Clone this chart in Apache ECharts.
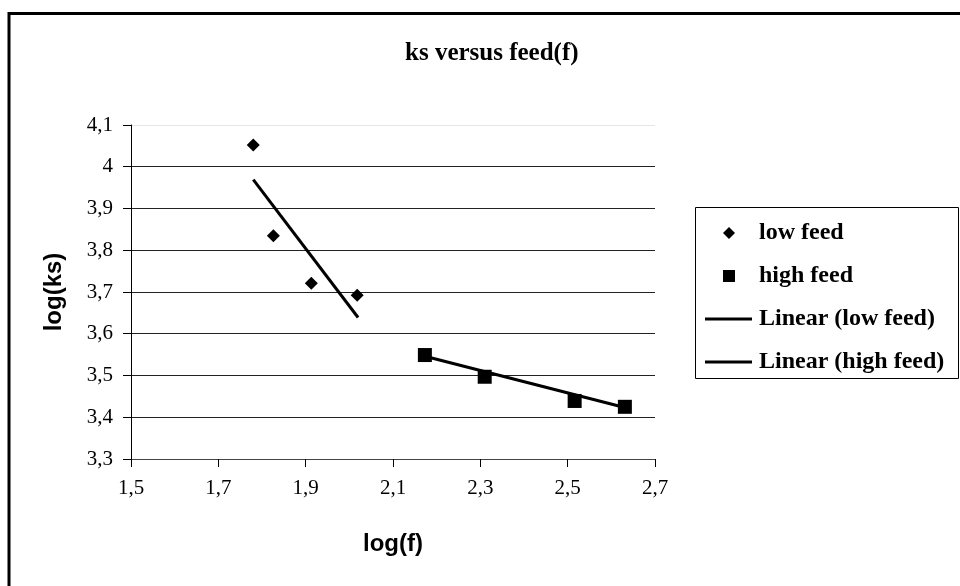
<!DOCTYPE html>
<html>
<head>
<meta charset="utf-8">
<script src="https://cdn.jsdelivr.net/npm/echarts@6/dist/echarts.min.js"></script>
<style>html,body{margin:0;padding:0;background:#fff;}#c{width:960px;height:586px;}</style>
</head>
<body>
<div id="c"></div>
<script>
// ---- data ----
const lowFeedX = [1.780, 1.826, 1.913, 2.018];
const lowFeedY = [4.052, 3.835, 3.721, 3.692];
const highFeedX = [2.173, 2.310, 2.516, 2.631];
const highFeedY = [3.549, 3.497, 3.439, 3.425];
const lowTrendX = [1.780, 2.020];
const lowTrendY = [3.969, 3.639];
const highTrendX = [2.173, 2.635];
const highTrendY = [3.546, 3.422];
const xTicks = [1.5, 1.7, 1.9, 2.1, 2.3, 2.5, 2.7];
const xTickLabels = ['1,5', '1,7', '1,9', '2,1', '2,3', '2,5', '2,7'];
const yTicks = [3.3, 3.4, 3.5, 3.6, 3.7, 3.8, 3.9, 4.0, 4.1];
const yTickLabels = ['3,3', '3,4', '3,5', '3,6', '3,7', '3,8', '3,9', '4', '4,1'];
const seriesNames = ['low feed', 'high feed', 'Linear (low feed)', 'Linear (high feed)'];
const titleText = 'ks versus feed(f)';
const xName = 'log(f)';
const yName = 'log(ks)';

function zip(a, b) { return a.map((v, i) => [v, b[i]]); }
function lookup(ticks, labels, v) {
  const i = ticks.findIndex(t => Math.abs(t - v) < 1e-6);
  return i >= 0 ? labels[i] : '';
}

const chart = echarts.init(document.getElementById('c'), null, {renderer: 'canvas'});
const serif = 'Liberation Serif';
const sans = 'Liberation Sans';
const legendText = {fontFamily: serif, fontWeight: 'bold', fontSize: 24, lineHeight: 24, color: '#000'};

chart.setOption({
  backgroundColor: '#ffffff',
  animation: false,
  title: {
    text: titleText,
    left: 400, top: 36,
    textStyle: {fontFamily: serif, fontWeight: 'bold', fontSize: 25, color: '#000'}
  },
  graphic: [
    {type: 'rect', shape: {x: 9, y: 13.5, width: 980, height: 620}, style: {fill: 'none', stroke: '#000', lineWidth: 3}, silent: true, z: 0},
    {type: 'rect', shape: {x: 695.5, y: 207.5, width: 263, height: 171}, style: {fill: '#fff', stroke: '#000', lineWidth: 1}, silent: true, z: 1}
  ],
  legend: [
    {
      orient: 'vertical',
      left: 723, top: 221,
      padding: 0,
      itemWidth: 12, itemHeight: 12,
      itemGap: 19,
      z: 5,
      data: [{name: seriesNames[0], icon: 'diamond'}, {name: seriesNames[1], icon: 'rect'}],
      textStyle: Object.assign({padding: [0, 0, 0, 19]}, legendText)
    },
    {
      orient: 'vertical',
      left: 705, top: 307,
      padding: 0,
      itemWidth: 47, itemHeight: 3,
      itemGap: 19,
      z: 5,
      data: [{name: seriesNames[2], icon: 'rect'}, {name: seriesNames[3], icon: 'rect'}],
      textStyle: Object.assign({padding: [0, 0, 0, 2]}, legendText)
    }
  ],
  grid: {left: 131, right: 305, top: 125, bottom: 127},
  xAxis: {
    type: 'value', min: 1.5, max: 2.7,
    name: xName, nameLocation: 'middle', nameGap: 73,
    nameTextStyle: {fontFamily: sans, fontWeight: 'bold', fontSize: 24, color: '#000'},
    axisLine: {show: true, onZero: false, lineStyle: {color: '#444', width: 1}},
    axisTick: {show: true, inside: false, length: 8, customValues: xTicks, lineStyle: {color: '#000'}},
    axisLabel: {customValues: xTicks, margin: 19, fontFamily: serif, fontSize: 21, color: '#000',
      formatter: v => lookup(xTicks, xTickLabels, v)},
    splitLine: {show: false}
  },
  yAxis: {
    type: 'value', min: 3.3, max: 4.1, interval: 0.1,
    name: yName, nameLocation: 'middle', nameGap: 65, nameRotate: 90,
    nameTextStyle: {fontFamily: sans, fontWeight: 'bold', fontSize: 24, color: '#000'},
    axisLine: {show: true, onZero: false, lineStyle: {color: '#000', width: 1}},
    axisTick: {show: true, inside: false, length: 8, lineStyle: {color: '#000'}},
    axisLabel: {margin: 18, fontFamily: serif, fontSize: 21, color: '#000',
      formatter: v => lookup(yTicks, yTickLabels, v)},
    splitLine: {show: true, lineStyle: {width: 1, color: ['#444', '#222', '#222', '#222', '#222', '#222', '#222', '#222', '#e6e6e6']}}
  },
  series: [
    {name: seriesNames[0], type: 'scatter', symbol: 'diamond', symbolSize: 13, z: 4,
      itemStyle: {color: '#000', opacity: 1}, data: zip(lowFeedX, lowFeedY)},
    {name: seriesNames[1], type: 'scatter', symbol: 'rect', symbolSize: 14, z: 4,
      itemStyle: {color: '#000', opacity: 1}, data: zip(highFeedX, highFeedY)},
    {name: seriesNames[2], type: 'line', symbol: 'none', z: 3,
      lineStyle: {color: '#000', width: 3}, itemStyle: {color: '#000', opacity: 1}, data: zip(lowTrendX, lowTrendY)},
    {name: seriesNames[3], type: 'line', symbol: 'none', z: 3,
      lineStyle: {color: '#000', width: 3}, itemStyle: {color: '#000', opacity: 1}, data: zip(highTrendX, highTrendY)}
  ]
});
</script>
</body>
</html>
